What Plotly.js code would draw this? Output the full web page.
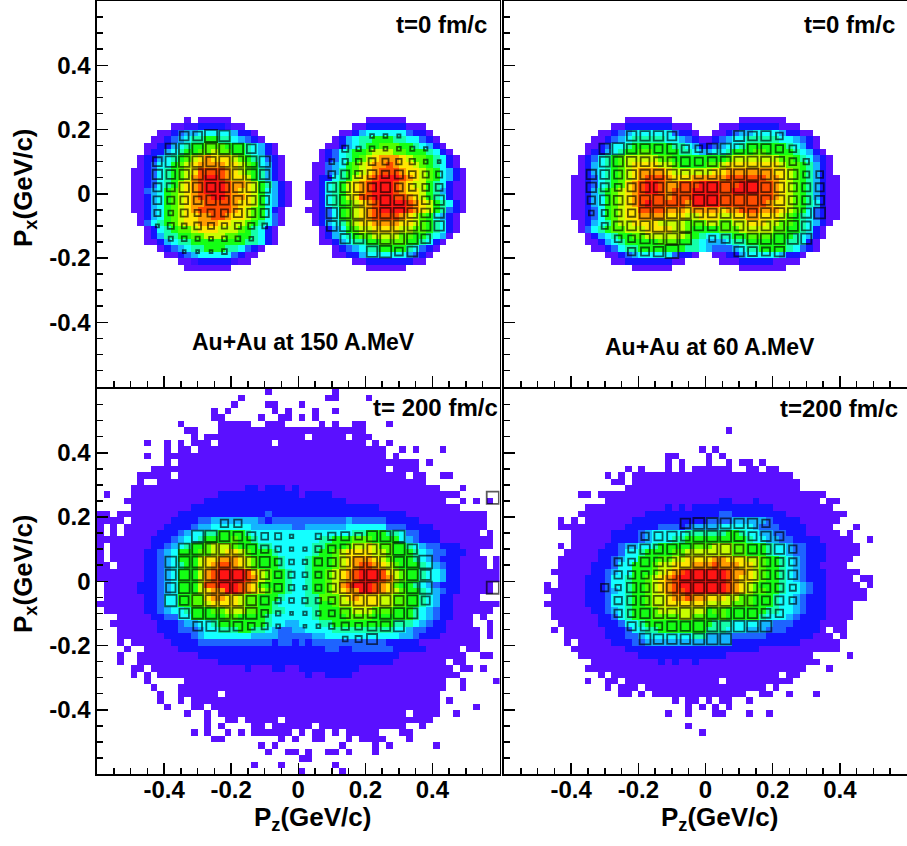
<!DOCTYPE html>
<html><head><meta charset="utf-8">
<script src="https://cdn.plot.ly/plotly-3.0.1.min.js"></script>
<style>html,body{margin:0;padding:0;background:#fff}</style></head>
<body><div id="chart" style="width:907px;height:846px"></div>
<script>
// bin content level per cell, a(lowest)..n(highest), '.' = empty
const levelCodes = 'abcdefghijklmn';
const levelColors = ['#5a10ff','#3c10ff','#1414ff','#1e64ff','#14b4ff','#14ffff','#14ffaa','#14ff14','#50ff00','#c8ff00','#ffe600','#ff9c00','#ff4c00','#ff1414'];

const au150t0 = [
"........a.aaaaa.........",
"......aabbccccbaa.......",
"....aacdeefffffecca.....",
"...aacdefgghhggfedca....",
"..aaccefghhiiihhhgfeca..",
"..accefghhiijiihhgfeca..",
".accefghijklkkkjihgfdca.",
".acdffhijkllllkkjihfeca.",
"aacdfghijkmmmmlkjihgeca.",
"aacdfghijlmnnmlkkjhgeca.",
"aacdfghjklmnnnmllkjhgeca",
"aadefhijklmnnnmlkkjhfeca",
"aacefhijklmmnnmllkjhfeca",
"aacefhijkllmmmmlkkjhfeca",
"aacefhijklmmmmmlkjihfca.",
".acefhijkkllmmlkkjihfda.",
".adfghijkklllkkjjihgfda.",
"..acfghiijkkkjjjihgfca..",
"..acegghhiijjjiihhgfca..",
"..aacefgghhhhhhhhggfca..",
"....acdefgghhhggfdca....",
".....aacdefffffdcaa.....",
".......aabcccccbaa......",
"........aaaaaaa........."];

const au150t0b = [
".........aaaaaa.........",
".......aaccccccaaa......",
".....aaceffffffdcca.....",
"....acefgghhhggffdca....",
"...aacefghhiiihhgfeca...",
"..acdfghhijjjiihhhgfca..",
"..acdfghijklllkjiihgfca.",
".aadefhijkllmlkkjihgfca.",
".aadeghijklmmmlkkjihfeca",
".accfghjklmnnnmlkjihfeca",
"aacfghjklmnnnmlkjjhgfcaa",
"aacfghjklmnnnmlkkjhgecaa",
"aacfghjkmmnnnmmlkjhgfcaa",
".acfghijklmnnnnmlkjhgfca",
"aacdfhijklmnnnnmlkjhgdca",
".acdfhijklmmmmlkjihfeca.",
".acefgijkkllllkkjihgfca.",
"..acefhijjkkkkjjiihgfca.",
"..acefghiijjjjiihhgfea..",
"..aacefgghhiiiihhgfca...",
"....acdefgghhhhgfdca....",
"....aacceffffffedca.....",
".......aacccccccaa......",
".........aaaaaa........."];

const au60t0 = [
"........aaaaaaa..........aaaaaaa........",
"......aacccccccaaa....aaaccccccaaa......",
"....aacdeffffffdcca..aacdeeffffeccaa....",
"...aacdefgggggffedcaacdeffgggggffedca...",
"..aacdffghhhhhhggfeccdeffghhhhhhgfeca...",
"..accefghhiihhhhggfeeffghhhiihhhhgfeca..",
".acdfghijjjjjiihhhhhhhhijjjjjjjiihgfdca.",
".acefghijkkkkjjihhhhiijkkkkkkkkjiihgeca.",
".acefghijkllllkjjjjjjkklllllllkkjihgeca.",
"aacdfghijklmmmlkkklllllmmmmmmllkjihgecaa",
"aacdfghiklmnnmllmmmnnnmmmnnnmmlkjihgecaa",
"aaceghijklmnnmlmmmnnnnmmnnnnmmlkjihgecaa",
"aacefhijklmmmmlmmmnnnnmmmmmmmmlkjihgecaa",
"aacefhijklmnmmmmmlnnnnmmmmmmmlkkjihgfcaa",
"aacdfhijkkmmmmlllkllllkllmmmlllkjihfdcaa",
"aacdfhijkkllllkkkjjkkkjjkkllkkkjihgfdcaa",
".acefgijjkkkkjjjjiiijjiijjkkkjjiihgfeca.",
".adfghiijjjkkkkjjihhhhiiijjjjjiihhgfca..",
"..acefghhiijjjjjjihgffgghhiiiihhhgfeca..",
"..aacefghhhhhiiihhgfeeefgghhhhhhggfca...",
"...aacdfgghhhhhhhggfedddefgghhhhgfdca...",
".....aacdefffffdcca..aaccefffffecca.....",
"......aacccccccaa.....aaacccccaaaa......",
".........aaaaaa..........aaaaaaa........"];

const au150t200Left = [
".........................a",
".....................a",
"....................a....aa",
".................a.a......a.a",
".................aa.....a..aa",
"............a.....aaaaa..aaa",
".............aa...aaaaaaaaaaaa",
"..............a.aaaaaaaaaaaaaa",
".......a..a.a.aaa.aaaaaaaa.aaa",
"..........a.aa.aaaaaaaaaaaaaaa",
".......a..aaaaaaaaaaaaaaaaaaaa",
"..........a.aaaaaaaaaaaaaaaaaa",
"........aaaaaaaaaaaaaaaaaaaaaa",
"......aaaaa.aaaaaaaaaaaaaaaaaa",
"......a..aaaaaaaaaaaaaaaaaaaaa",
".....aaaaaaaaaaaaaaaaaccacccac",
".a...aaaaaaaaaaaaacccccccccccc",
"....aaaaaaaaaaaacccccccccccccc",
".....aaaaaaaaacccccccccccccccc",
"aa.aaaaaaaaacccccccccccccdcccc",
"aaaa.aaaaaaccccddeeeeeeedcdddd",
"a.a.aaaaaaccccdeeffffffeeeeeed",
"a.a.aaaaacccdeffgghhhhgfffffff",
"aaaaaaaacccdeffghhhhihhgffffff",
"a.aaaaaaccdefghhijjjihhhggffff",
"a.aaaaaccdefhhhiijjkkjihhhgfff",
"a.aaaaaccdefhhhjkklllkjihhhgff",
"aa.aaaaccdefghhjklmmlkjihhhgff",
"aaaaaaaccdefhhhjlmnnnnmkjihhgf",
"aaaaaaaccdefhhhjlmnnnnmljihhgf",
".aaaaacccdefhhhjmmnnnmlkihhhgf",
".aaaaacccdefhhhjkllnnmlkjihhgf",
".aaaaaaccdffhhiikllkkjiihhhgff",
"aaaaaaaccdffhhiijkkkkjiihhgfff",
".aaaaaaccdeffghhhiijjjiihhggff",
"...aaaaaccddffhhhhhiihhhhgffff",
"..aaaaaaacccdeeffghhhhhhhgffee",
"...aaaaaacccdddeffggghhggfedde",
"...aaaaaaaccccdefffffffeeeeddd",
"...a.aaaaaaccccdddddddddddcddc",
"....a..aaaaacccccccccccccccccc",
"...a..aaaaaaaaaccccccccccccccc",
"...a..aaaaaaaaaaaacccccccccccc",
".....aa.aaaaaaaaaaaaaacaaaccaa",
".....a.a.aaaaaaaaaaaaaaaaaaaaa",
".......a.....aaaaaaaaaaaaaaaaa",
"........a...aaaaaaaaaaaaaaaaaa",
".........a..aaaaaa.aaaaaaaaaaa",
".........a..a.aaaaaaaaaaaaaaaa",
"..........a...aa.aaaaaaaaaaaaa",
".............a..a.aaaaaaaaaaaa",
"................a..aa.aaaaa.aa",
"................a.a....aa.aaaa",
"..............a.a..a.a.aaaaaa.",
".................aa........a.a",
"........................a.a...",
".........................a..aa",
"",
".......................a...a..",
""];

const au150t200Right = [
".....a",
"....aa....a",
"a",
"..a..a",
"a.a",
"...a.a..aa...a",
"aaaaaaaaaa",
"a.aaaaa.aaa",
"aaaaaaaaaa.a.a",
"aaaaaaaaaaaaa..a.a...a",
"aaaaaaaaaaaaa.a",
"aaaaaaaaaaaaaaaaaa.a",
"aaaaaaaaaaaaa.aaaa",
"aaaaaaaaaaaaaaaa.aa..aa",
"aaaaaaaaaaaaaaaaaaa",
"aaaaaaaaaaaaaaaaaaaaa...a",
"accccaaaaaaaaaaaaaaaaaaa",
"cccccccaaaaaaaaaaaaaaa..a.a.a",
"ccccccccccccaaaaaaaaaaaa",
"ccccccccccccccccaaaaaaaaaaaa",
"dddddddedddddcccccaaaaaaaaaa",
"deeeeeeffffffdddccccaaaaaaaa",
"ffffffffgghhhggfddcccaaaaaa.a",
"fffgghhhiiihhhhfedcccaaaaaaaa",
"ffgghhhijjkjiihhgfeddcccaaaaa",
"ffghhijkkkkjjihhhgfeddcccaa",
"fghhhijklllkjihhhgfedcccaaaa.a",
"fghhhijklmmlkjihhhgfedccaaaa.a",
"fghhijklmnnnmkjihhgffeccaaaaaa",
"fghhijklmnnnmljihhgffeccaaaaaa",
"fghhijlmnnnmlkihhgfedcccaaaaa",
"fghhijkllnnmlkjihhgfedccaaaaa",
"fggiiijklkkkjjiihhgfeccaaaa",
"fgghhijjkkkkjjiihhgfeccaaaaaaa",
"ffghhhiijjjiiihhhgfedccaaaaaa",
"ffghhhhiiiihhhhhhgfedccaaa.a",
"fffgghhhhhhhhhgggfedccaaaa..a",
"effffgggggggggffeddcccaaaaa.a",
"ddeefffffffffffeedcccaaaaaa.a",
"dcdddddddddddcccccaaaaaaaaa",
"ccccddccddddddcccccaaaaa.aa",
"cccccccccccccccaaaaaaaaaa..aa",
"ccccccccccccccaaaaaaaa.aa",
"cccccccccaaaaaaaaaaaaaa.aa.a",
"acaaccccaaaaaaaaaaaaaaaa",
"aaaaaaaaaaaaaaaaaaaaaa..a....a",
"aaaaaaaaaaaaaaaaaaaaaa..a",
"aaaaaaaaaaaaaaaaaaaaa",
"aaaaaaaaaaaaaaaaaaaaa.a",
"aaaaaaaaaaaaaaaaaaaaa.....a",
"aaaaaaaaaaaaaaaa.aaaa..a",
"aaaaaaaaaaaaaaaaaaaa",
"aa.aaaaaaaaaaaaa..a",
"a.aa.a.aaaaa...aa",
"..aa...a.aaaa...a",
"......a....a.a......a",
".a..aa.a...a",
"aa",
".....a",
"a.....a"];

const au60t200Left = [
"","","","","","","","","",
".............................a",
"........................aa",
"........................a.a",
"..................a.a...a.a.aa",
"...............a.a.aaaaaaaaaaa",
"................aa.aaaaaaaaaaa",
"..................aaaaaaaaaaaa",
"...........aa.aaaaaaaaaaaaaaaa",
"...............aaaaaaaaaaaaaaa",
"............aaaaaaaaaaaacacacc",
"...........aaaaaaaaaaccccccccc",
"........a.a.aaaaaaaccccccccccc",
"........aaaaaaaaaacccccdddcdee",
"..........aaaaaaccccdefffffggg",
"..........aaaaaaccccdefffgghhh",
"........a.aaaaaccdeeffghhhhhii",
".........aaaaacccdffghhhhiijjj",
"........aaaaaaccdeffhhhiijjkkk",
"........aaaaacccdffhhhijjkkkll",
".......aaaaaaccdeffhhhijklmnnn",
"........aaaacccdffghhijklmnnnn",
"......a.aaaacccdffghhijklmnnnn",
"......aaaaaacccdefghhijklmmnnn",
".......aaaaacccdffghhijjkllmll",
"......aaaaaacccdffghhijjkkkkkk",
".......aaaaaaccdefghhhijjjjjjj",
".......aaaaaaaccdfghhhiiiijjii",
"........aaaaaacccdffghhhhhhhhh",
".......a.aaaaaacccdffgghhhhhhh",
".........aaaaaacccddefffffffgg",
".........a.aaaaacccddeeeeeeeee",
"..........aaaaaaaacccccccccccc",
"...........aaaaaaaaacccccccccc",
".............aaaaaaaaaacacaaca",
"............aaaaaaaaaaaaaaaaaa",
"..............a.aaaaaaaaaaaaaa",
"............a..aa.aaaaaaaaaaaa",
"...............a.aaa.aaaaaaaaa",
".................aa.a.aaaaaaaa",
".........................a.aa.",
"...........................a.a",
"........................a..a..",
"",
"...........................a..",
".............................a",
"","","","","",""];

const au60t200Right = [
"","","","","","",
"...a",
"","",
".a",
"a.a",
"a..a.aa.a",
"aaaa..aa.aa",
"aaaaaaaaaaaaa",
"aaaaaaaaaaaaaa",
"aaaaaaaaaaaaaa",
"aaaaaaaaaaaaaaaaaa",
"aaccaaacaaaaaaaaa.aa",
"ccccccccccaaaaaaaaa",
"ccddccccccccaaaaaaaaa",
"ddddeeeeedccccaaaaaa",
"eefffffedddccccaaaa...a",
"ggghhgffeeddcccaaaaa.a",
"hhhhhhgffeeddccccaaaaa..a",
"ijjjiihhhgffeddcccaaaaa",
"jjjjiihhhgffeddcccaaaaa",
"kllkkkjjihhgfedcccaaaa",
"lmlllkkjihhgfedccaaaa",
"nnnmllkjihhgfedcccaaaaa",
"nnnmlkkjihhgfedcccaaaa.aa",
"nnnmlkjihhhgffedccaaaaa.a",
"nnnmlkjiihhgffedccaaaaaa",
"kkkjjiihhhgffedcccaaaaaa",
"jjjjiiihhhgffedcccaaaa",
"hiihhhhhhggffedcccaaaa",
"hhihhhhhgfffedccccaaaa",
"hgggffffeedddccccaaaa",
"gggfffeeedddccccca.aa",
"eeeedddddcccccccaaa.a",
"eeeeccccccccccaaaaaa",
"ccccccccaaaaaaaaaaaa",
"cccaaaaaaaaaaaaa.....a",
"aaaaaaaaaaaaaaaaa",
"aaaaaaaaaaaaaaa...a",
"aaaaaaaaaaa.aa",
"aa.aaaaaaaaaa",
"aaaaaaaaa.a",
"aaaaaa..aa..a...a",
"a.aa..a",
".a.a",
".aa...a..a",
"","","","","","","","",""];

// box overlay values: rows follow boxRows, columns follow each x list
const boxRows = [0.18,0.14,0.10,0.06,0.02,-0.02,-0.06,-0.10,-0.14,-0.18];
const boxXa = [-0.42,-0.38,-0.34,-0.30,-0.26,-0.22,-0.18,-0.14,-0.10];
const boxXb = [0.10,0.14,0.18,0.22,0.26,0.30,0.34,0.38,0.42];
const boxXc = [-0.34,-0.30,-0.26,-0.22,-0.18,-0.14,-0.10,-0.06,-0.02,0.02,0.06,0.10,0.14,0.18,0.22,0.26,0.30,0.34];
const boxXd = [-0.38,-0.34,-0.30,-0.26,-0.22,-0.18,-0.14,-0.10,-0.06,-0.02,0.02,0.06,0.10,0.14,0.18,0.22,0.26,0.30,0.34,0.38];
const boxXe = [-0.30,-0.26,-0.22,-0.18,-0.14,-0.10,-0.06,-0.02,0.02,0.06,0.10,0.14,0.18,0.22,0.26];

const boxA = [
[0,0,30,30,40,35,0,0,0],
[0,35,35,35,35,35,35,30,0],
[30,35,35,35,32,35,35,35,35],
[32,30,32,35,35,35,35,35,32],
[28,28,32,32,30,32,32,32,35],
[27,25,27,27,32,30,30,30,30],
[22,18,25,22,25,25,28,28,28],
[13,22,18,24,22,20,22,22,18],
[0,16,18,16,15,18,18,15,0],
[0,0,12,12,12,18,0,0,0]];
const boxB = [
[0,0,0,15,15,13,0,0,0],
[0,22,17,18,15,15,16,14,0],
[18,20,20,24,22,20,20,15,12],
[24,28,25,30,26,28,24,22,22],
[30,32,32,28,32,27,24,24,24],
[32,35,35,30,33,32,33,27,32],
[35,35,38,33,35,35,33,30,32],
[33,35,35,35,35,35,32,32,32],
[0,32,32,35,35,35,35,30,0],
[0,0,0,35,38,27,33,0,0]];
const boxC = [
[0,0,0,32,32,32,30,0,0,0,0,34,30,32,24,0,0,0],
[0,35,38,32,32,28,32,26,24,35,35,32,32,32,26,24,0,0],
[0,33,32,32,30,30,30,30,28,30,33,32,34,33,32,24,20,0],
[32,30,28,30,32,32,33,30,28,30,36,34,38,33,32,32,22,24],
[32,28,24,28,32,32,35,33,32,33,35,35,36,32,32,28,28,28],
[26,32,30,28,33,35,35,33,36,33,33,35,36,32,33,28,28,30],
[18,22,24,26,36,36,34,36,30,30,33,33,30,33,33,33,32,36],
[0,22,30,30,32,38,36,38,30,30,30,30,32,30,32,34,30,0],
[0,0,24,24,32,34,36,38,0,22,28,28,34,34,34,34,34,0],
[0,0,0,26,28,32,42,0,0,0,0,32,30,28,32,0,0,0]];
const boxD = [
[0,0,0,0,26,26,0,0,0,0,0,0,0,0,0,0,0,0,0,0],
[0,0,38,38,33,30,28,24,22,14,0,20,26,28,24,34,34,38,0,0],
[0,36,36,36,36,36,32,26,20,14,14,22,26,32,32,32,33,38,32,0],
[36,36,36,36,36,36,34,34,24,18,17,26,28,32,34,34,36,34,36,42],
[34,36,36,36,36,36,34,30,24,22,18,22,26,34,36,36,36,34,36,34],
[32,36,36,36,36,36,34,32,26,20,14,22,28,36,36,36,36,36,36,40],
[38,30,36,36,36,36,32,28,20,18,20,20,24,32,34,34,34,32,34,28],
[0,32,36,36,36,36,36,24,17,12,14,17,22,32,30,30,36,35,34,0],
[0,0,30,32,34,30,24,22,15,0,12,15,20,26,24,30,32,34,0,0],
[0,0,0,0,0,0,0,0,0,0,0,0,0,18,22,34,0,0,0,0]];
const boxDextraX = [0.58,0.58];
const boxDextraY = [0.26,-0.02];
const boxDextraV = [40,40];
const boxE = [
[0,0,0,0,0,0,32,36,36,34,32,32,26,0,0],
[0,0,0,26,28,32,30,36,36,36,32,28,32,28,0],
[0,0,24,32,30,32,36,36,34,34,30,30,32,32,26],
[0,26,24,30,30,30,36,36,36,36,36,32,30,28,26],
[0,26,26,26,30,32,36,36,36,36,36,34,30,28,30],
[26,20,32,30,32,34,36,36,36,36,36,32,30,28,22],
[0,26,30,30,32,34,36,36,36,36,36,34,28,28,24],
[0,26,26,32,32,32,36,36,36,36,34,32,30,26,0],
[0,0,28,30,26,32,32,36,34,36,36,36,36,0,0],
[0,0,0,36,32,32,32,36,36,36,0,0,0,0,0]];

const tickVals = [-0.4,-0.2,0,0.2,0.4];
const tickText = ['-0.4','-0.2','0','0.2','0.4'];

const W = 907, H = 846, NBIN = 60, PMAX = 0.6, BIN = 0.02;
const centers = Array.from({length:NBIN},(_,i)=>+(-PMAX+BIN*(i+0.5)).toFixed(3));
const rowCenters = centers.slice().reverse();

function grid(rows, r0, c0){
  const z = Array.from({length:NBIN},()=>Array(NBIN).fill(null));
  rows.forEach((s,r)=>{ for(let c=0;c<s.length;c++){ const v=levelCodes.indexOf(s[c]);
    if(v>=0 && r+r0<NBIN && c+c0<NBIN) z[r+r0][c+c0]=v+1; }});
  return z;
}
function join(l,r){ return l.map((s,i)=>s.padEnd(30,'.').slice(0,30)+(r[i]||'')); }

const colorscale = levelColors.flatMap((c,i)=>[[i/14,c],[(i+1)/14,c]]);

function heat(z,n){ return {type:'heatmap',x:centers,y:rowCenters,z:z,xaxis:'x'+n,yaxis:'y'+n,zmin:0,zmax:14.0001,
  colorscale:colorscale,showscale:false,zsmooth:false,hoverongaps:false}; }
function boxes(xs,vals,n,ex,ey,ev){
  const x=[],y=[],v=[];
  vals.forEach((row,i)=>row.forEach((b,j)=>{ if(b>0){x.push(xs[j]);y.push(boxRows[i]);v.push(b);} }));
  if(ex) ex.forEach((e,i)=>{x.push(e);y.push(ey[i]);v.push(ev[i]);});
  return {type:'scatter',mode:'markers',x:x,y:y,xaxis:'x'+n,yaxis:'y'+n,cliponaxis:true,hoverinfo:'skip',
    marker:{symbol:'square-open',size:v.map(b=>Math.max(b/3-1.2,2)),color:'rgba(0,0,0,0.92)',line:{width:1.8,color:'rgba(0,0,0,0.92)'}}};
}

const data = [
  heat(grid(au150t0,18,5),1), heat(grid(au150t0b,18,31),1),
  boxes(boxXa,boxA,1), boxes(boxXb,boxB,1),
  heat(grid(au60t0,18,10),2), boxes(boxXc,boxC,2),
  heat(grid(join(au150t200Left,au150t200Right),0,0),3), boxes(boxXd,boxD,3,boxDextraX,boxDextraY,boxDextraV),
  heat(grid(join(au60t200Left,au60t200Right),0,0),4), boxes(boxXe,boxE,4)
];
data.forEach(t=>{ if(t.xaxis==='x1'){t.xaxis='x';t.yaxis='y';} });

const fam = '"Liberation Sans",Arial,sans-serif';
const tickFont = {family:fam,size:24,color:'#000',weight:700};
const px = {L:[97,499.5],R:[504,907],T:[1,386.5],B:[388.5,774]};
const minorTicks = {dtick:0.05,tick0:0,ticks:'inside',ticklen:6,tickwidth:1.5,tickcolor:'#000',showgrid:false};
function axBase(labels){ return {range:[-PMAX,PMAX],showline:true,mirror:true,linecolor:'#000',linewidth:1.6,showgrid:false,zeroline:false,
  tickmode:'array',tickvals:tickVals,ticktext:tickText,showticklabels:labels,ticks:'inside',ticklen:11,tickwidth:1.5,tickcolor:'#000',
  minor:minorTicks,tickfont:tickFont,automargin:false,fixedrange:true}; }
function axX(key,labels,anchor){ return Object.assign(axBase(labels),{domain:[px[key][0]/W,px[key][1]/W],anchor:anchor,ticklabelstandoff:-6}); }
function axY(key,labels,anchor){ return Object.assign(axBase(labels),{domain:[1-px[key][1]/H,1-px[key][0]/H],anchor:anchor}); }

const noteFont = {family:fam,size:24,color:'#000',weight:700};
const auFont = {family:fam,size:23,color:'#000',weight:700};
const titleFont = {family:fam,size:26,color:'#000',weight:700};
function note(text,xp,yp,font,extra){ return Object.assign({text:text,xref:'paper',yref:'paper',x:xp/W,y:1-yp/H,xanchor:'center',yanchor:'middle',showarrow:false,font:font},extra||{}); }

const layout = {
  width:W,height:H,margin:{l:0,r:0,t:0,b:0,pad:0},paper_bgcolor:'#fff',plot_bgcolor:'#fff',showlegend:false,
  xaxis:axX('L',false,'y'), yaxis:axY('T',true,'x'),
  xaxis2:axX('R',false,'y2'), yaxis2:axY('T',false,'x2'),
  xaxis3:axX('L',true,'y3'), yaxis3:axY('B',true,'x3'),
  xaxis4:axX('R',true,'y4'), yaxis4:axY('B',false,'x4'),
  annotations:[
    note('t=0 fm/c',441,25,noteFont), note('t=0 fm/c',849,25,noteFont),
    note('t= 200 fm/c',435,407,noteFont), note('t=200 fm/c',839,408,noteFont),
    note('Au+Au at 150 A.MeV',303,342,auFont), note('Au+Au at 60 A.MeV',710,347,auFont),
    note('P<sub>x</sub>(GeV/c)',24,188,titleFont,{textangle:-90}),
    note('P<sub>x</sub>(GeV/c)',24,574,titleFont,{textangle:-90}),
    note('P<sub>z</sub>(GeV/c)',312,818,titleFont),
    note('P<sub>z</sub>(GeV/c)',719,818,titleFont)
  ]
};
Plotly.newPlot('chart',data,layout,{displayModeBar:false,staticPlot:true});
</script></body></html>
